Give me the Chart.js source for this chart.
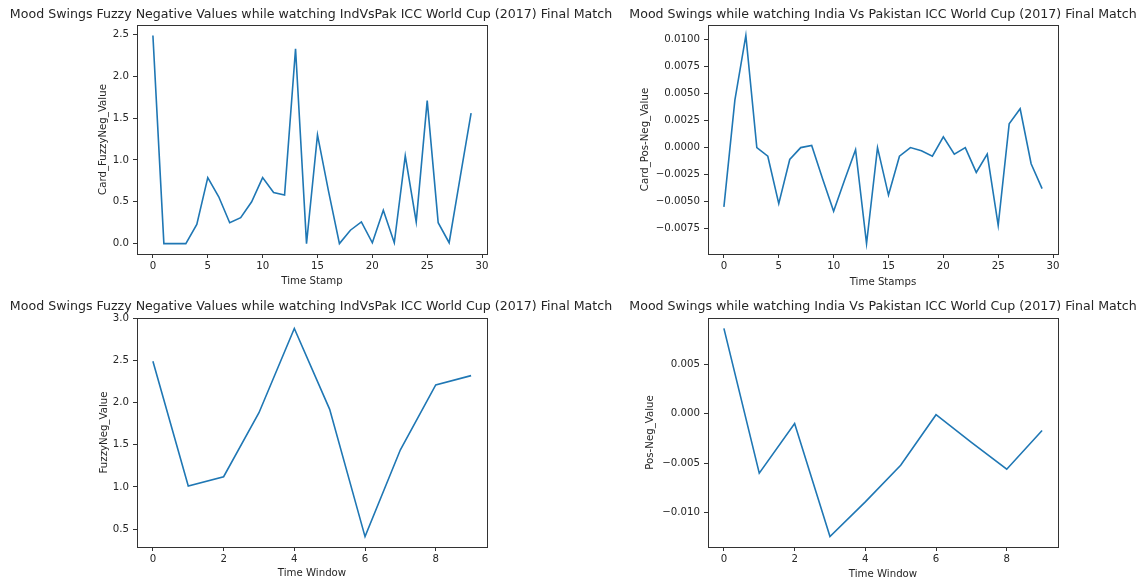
<!DOCTYPE html>
<html>
<head>
<meta charset="utf-8">
<script src="https://cdn.jsdelivr.net/npm/chart.js@4/dist/chart.umd.min.js"></script>
<style>
    body { margin: 0; background: #fff; }
    #wrap { position: relative; width: 1145px; height: 581px; }
    canvas { position: absolute; }
</style>
</head>
<body>
<div id="wrap">
    <canvas id="c1" width="622" height="290" style="left:0;top:0"></canvas>
    <canvas id="c2" width="522" height="290" style="left:622px;top:0"></canvas>
    <canvas id="c3" width="622" height="291" style="left:0;top:290px"></canvas>
    <canvas id="c4" width="522" height="291" style="left:622px;top:290px"></canvas>
</div>
<script>
// time stamps / windows (x values)
const timeStamps = [0, 1, 2, 3, 4, 5, 6, 7, 8, 9, 10, 11, 12, 13, 14, 15, 16, 17, 18, 19, 20, 21, 22, 23, 24, 25, 26, 27, 28, 29]
const timeWindows = [0, 1, 2, 3, 4, 5, 6, 7, 8, 9]

// series values
const cardFuzzyNeg = [2.49, 0.0, 0.0, 0.0, 0.23, 0.79, 0.56, 0.25, 0.31, 0.50, 0.79, 0.61, 0.58, 2.33, 0.0, 1.30, 0.63, 0.0, 0.16, 0.26, 0.01, 0.40, 0.01, 1.05, 0.26, 1.71, 0.25, 0.01, 0.79, 1.56]
const cardPosNeg = [-0.0055, 0.0044, 0.0104, 0.0000, -0.0008, -0.0052, -0.0011, 0.0000, 0.0002, -0.0029, -0.0059, -0.0030, -0.0002, -0.0089, 0.0000, -0.0044, -0.0008, 0.0000, -0.0003, -0.0008, 0.0010, -0.0006, 0.0000, -0.0023, -0.0006, -0.0072, 0.0022, 0.0036, -0.0015, -0.0038]
const fuzzyNegWindow = [2.49, 1.01, 1.12, 1.88, 2.88, 1.92, 0.41, 1.44, 2.21, 2.32]
const posNegWindow = [0.0086, -0.0060, -0.0010, -0.0124, -0.0089, -0.0052, -0.0001, -0.0029, -0.0056, -0.0017]

// texts
const titleFuzzy = 'Mood Swings Fuzzy Negative Values while watching IndVsPak ICC World Cup (2017) Final Match'
const titlePosNeg = 'Mood Swings while watching India Vs Pakistan ICC World Cup (2017) Final Match'

const FONT = 'DejaVu Sans'
const TXT = '#262626'
const LINE = '#1f77b4'

// matplotlib style box round the plot area
const framePlugin = {
    id: 'frame',
    afterDatasetsDraw(chart) {
        const a = chart.chartArea
        const ctx = chart.ctx
        ctx.save()
        ctx.strokeStyle = '#333'
        ctx.lineWidth = 1
        ctx.strokeRect(Math.round(a.left) + 0.5, Math.round(a.top) + 0.5, Math.round(a.right - a.left), Math.round(a.bottom - a.top))
        ctx.restore()
    }
}

function pad5(arr) {
    const lo = Math.min(...arr), hi = Math.max(...arr)
    const m = (hi - lo) * 0.05
    return [lo - m, hi + m]
}

function makeChart(id, cfg) {
    const [ymin, ymax] = pad5(cfg.y)
    const [xmin, xmax] = pad5(cfg.x)
    const ctx = document.getElementById(id).getContext('2d')
    return new Chart(ctx, {
        type: 'line',
        data: {
            datasets: [{
                data: cfg.x.map((v, i) => ({x: v, y: cfg.y[i]})),
                borderColor: LINE,
                borderWidth: 1.6,
                pointRadius: 0,
                fill: false,
                tension: 0
            }]
        },
        plugins: [framePlugin],
        options: {
            responsive: false,
            animation: false,
            devicePixelRatio: 1,
            layout: {padding: 0},
            plugins: {
                legend: {display: false},
                tooltip: {enabled: false},
                title: {
                    display: true,
                    text: cfg.title,
                    color: TXT,
                    font: {family: FONT, size: 12.6, weight: 'normal'},
                    padding: {top: cfg.titleTop, bottom: cfg.titleBottom}
                }
            },
            scales: {
                x: {
                    type: 'linear',
                    min: xmin,
                    max: xmax,
                    afterFit: s => { s.height = cfg.xHeight },
                    border: {display: false},
                    grid: {drawOnChartArea: false, drawTicks: true, tickLength: 4, color: '#333'},
                    ticks: {stepSize: cfg.xStep, includeBounds: false, color: TXT, padding: 2,
                        maxRotation: 0, font: {family: FONT, size: 10.2}},
                    title: {display: true, text: cfg.xLabel, color: TXT,
                        font: {family: FONT, size: 10.2}, padding: {top: 0, bottom: cfg.xTitlePad}}
                },
                y: {
                    min: ymin,
                    max: ymax,
                    afterFit: s => { s.width = cfg.yWidth },
                    border: {display: false},
                    grid: {drawOnChartArea: false, drawTicks: true, tickLength: 4, color: '#333'},
                    ticks: {stepSize: cfg.yStep, includeBounds: false, color: TXT, padding: 4,
                        font: {family: FONT, size: 10.2},
                        callback: v => v.toFixed(cfg.yDec).replace('-', '\u2212')},
                    title: {display: true, text: cfg.yLabel, color: TXT,
                        font: {family: FONT, size: 10.2}, padding: {top: cfg.yTitlePad, bottom: 0}}
                },
                // empty right axis, only keeps white space right of the plot
                yR: {
                    position: 'right',
                    afterFit: s => { s.width = cfg.padRight },
                    border: {display: false},
                    grid: {display: false},
                    ticks: {display: false},
                    title: {display: false}
                }
            }
        }
    })
}

makeChart('c1', {
    x: timeStamps, y: cardFuzzyNeg, title: titleFuzzy,
    xLabel: 'Time Stamp', yLabel: 'Card_FuzzyNeg_Value',
    xStep: 5, yStep: 0.5, yDec: 1,
    padRight: 135, yWidth: 137, xHeight: 36,
    titleTop: 7.4, titleBottom: 2.5, xTitlePad: 3, yTitlePad: 97
})
makeChart('c2', {
    x: timeStamps, y: cardPosNeg, title: titlePosNeg,
    xLabel: 'Time Stamps', yLabel: 'Card_Pos-Neg_Value',
    xStep: 5, yStep: 0.0025, yDec: 4,
    padRight: 86, yWidth: 86, xHeight: 36,
    titleTop: 7.4, titleBottom: 2.5, xTitlePad: 2, yTitlePad: 17
})
makeChart('c3', {
    x: timeWindows, y: fuzzyNegWindow, title: titleFuzzy,
    xLabel: 'Time Window', yLabel: 'FuzzyNeg_Value',
    xStep: 2, yStep: 0.5, yDec: 1,
    padRight: 135, yWidth: 137, xHeight: 34,
    titleTop: 9.1, titleBottom: 3.8, xTitlePad: 1.5, yTitlePad: 98
})
makeChart('c4', {
    x: timeWindows, y: posNegWindow, title: titlePosNeg,
    xLabel: 'Time Window', yLabel: 'Pos-Neg_Value',
    xStep: 2, yStep: 0.005, yDec: 3,
    padRight: 86, yWidth: 86, xHeight: 34,
    titleTop: 9.1, titleBottom: 3.8, xTitlePad: 1, yTitlePad: 22
})
</script>
</body>
</html>
